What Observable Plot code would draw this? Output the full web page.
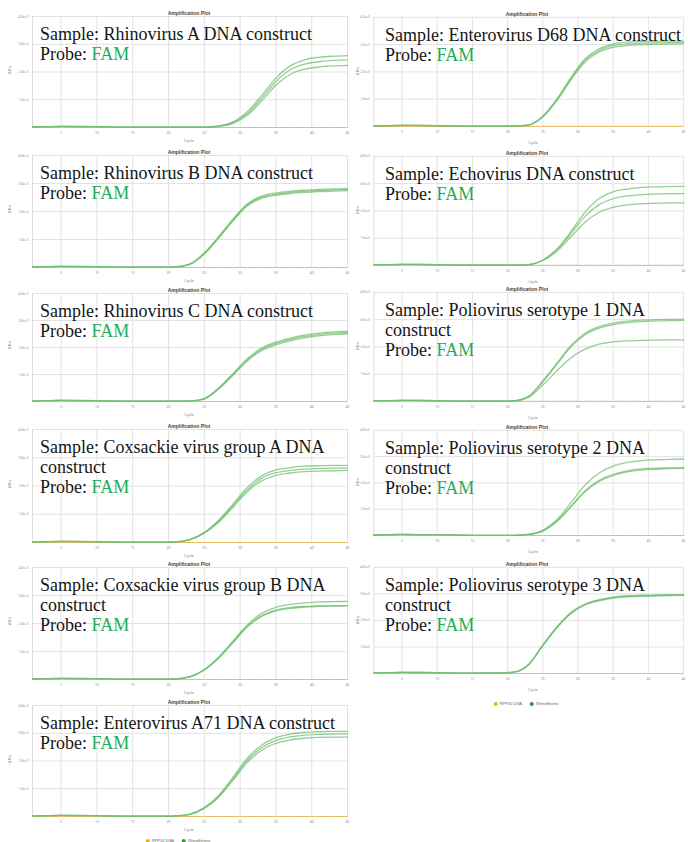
<!DOCTYPE html>
<html><head><meta charset="utf-8">
<script src="https://cdn.jsdelivr.net/npm/d3@7"></script>
<script src="https://cdn.jsdelivr.net/npm/@observablehq/plot@0.6"></script>
<style>
html,body{margin:0;padding:0;background:#fff}
body{width:688px;height:842px;overflow:hidden;position:relative;font-family:"Liberation Sans",Arial,sans-serif}
.panel{position:absolute}
.ov{position:absolute;font-family:"Liberation Serif","DejaVu Serif","Times New Roman",serif;font-size:18px;line-height:20px;color:#151515;white-space:nowrap}
.ov div{height:20px}
.fam{color:#1fab5a}
.pre{white-space:pre}
.ttl{position:absolute;font-size:5px;font-weight:bold;color:#444;transform:translateX(-50%);white-space:nowrap}
.cyc{position:absolute;font-size:4px;color:#888;transform:translateX(-50%);white-space:nowrap}
.drn{position:absolute;font-size:4px;color:#888;transform:translate(-50%,-50%) rotate(-90deg);white-space:nowrap}
.leg{position:absolute;font-size:4px;color:#666;transform:translateX(-50%);white-space:nowrap;display:flex;gap:8px;align-items:center}
.dot{display:inline-block;width:4px;height:4px;border-radius:50%;margin-right:2px;vertical-align:middle}
</style></head>
<body>
<script>
// ---- data (ΔRn in units of 1e5) ----
const cycles = [1,5,10,15,19,21,23,25,27,29,31,33,35,37,39,41,43,45];
const xTicks = [5,10,15,20,25,30,35,40,45];
const yTicks = [1,2,3,4];
const probe = "FAM";
const legendLabels = ["RPP30 DNA", "RhinoEntero"];
const rpp30 = [0,0,0,0,0,0,0,0,0,0,0,0,0,0,0,0,0,0];

const sampleNames = [
  ["Rhinovirus A DNA construct"],
  ["Rhinovirus B DNA construct"],
  ["Rhinovirus C DNA construct"],
  ["Coxsackie virus group A DNA", "construct"],
  ["Coxsackie virus group B DNA", "construct"],
  ["Enterovirus A71 DNA construct"],
  ["Enterovirus D68 DNA construct"],
  ["Echovirus DNA construct"],
  ["Poliovirus serotype 1 DNA", "construct"],
  ["Poliovirus serotype 2 DNA", "construct"],
  ["Poliovirus serotype 3 DNA", "construct"]
];

const rhinovirusA = [
  [0.02,0.04,0.03,0.01,0.01,0.01,0.01,0.01,0.06,0.20,0.57,1.15,1.78,2.22,2.44,2.53,2.57,2.59],
  [0.02,0.04,0.03,0.01,0.01,0.01,0.01,0.01,0.05,0.17,0.50,1.05,1.66,2.08,2.28,2.37,2.42,2.44],
  [0.02,0.04,0.03,0.01,0.01,0.01,0.01,0.01,0.04,0.15,0.44,0.95,1.52,1.91,2.10,2.18,2.22,2.24]
];
const rhinovirusB = [
  [0.02,0.04,0.03,0.01,0.01,0.02,0.13,0.52,1.10,1.73,2.27,2.55,2.66,2.72,2.76,2.79,2.81,2.82],
  [0.02,0.04,0.03,0.01,0.01,0.02,0.12,0.50,1.08,1.70,2.24,2.51,2.62,2.68,2.72,2.75,2.77,2.79],
  [0.02,0.04,0.03,0.01,0.01,0.02,0.11,0.48,1.05,1.66,2.20,2.47,2.58,2.64,2.68,2.71,2.73,2.75]
];
const rhinovirusC = [
  [0.02,0.04,0.03,0.01,0.01,0.01,0.02,0.11,0.50,1.03,1.58,1.98,2.20,2.35,2.46,2.53,2.58,2.61],
  [0.02,0.04,0.03,0.01,0.01,0.01,0.02,0.10,0.48,1.00,1.54,1.93,2.15,2.30,2.41,2.48,2.53,2.56],
  [0.02,0.04,0.03,0.01,0.01,0.01,0.02,0.09,0.46,0.97,1.50,1.88,2.10,2.25,2.36,2.43,2.48,2.51]
];
const coxsackieA = [
  [0.02,0.04,0.03,0.01,0.01,0.02,0.11,0.36,0.79,1.36,1.95,2.36,2.57,2.65,2.70,2.72,2.73,2.73],
  [0.02,0.04,0.03,0.01,0.01,0.02,0.10,0.34,0.75,1.30,1.87,2.27,2.47,2.55,2.60,2.62,2.63,2.63],
  [0.02,0.04,0.03,0.01,0.01,0.02,0.10,0.33,0.72,1.25,1.80,2.18,2.38,2.46,2.51,2.53,2.54,2.55]
];
const coxsackieB = [
  [0.02,0.04,0.03,0.01,0.01,0.02,0.10,0.36,0.80,1.37,1.95,2.36,2.58,2.68,2.74,2.77,2.78,2.79],
  [0.02,0.04,0.03,0.01,0.01,0.02,0.10,0.35,0.78,1.34,1.90,2.28,2.48,2.57,2.61,2.63,2.64,2.64],
  [0.02,0.04,0.03,0.01,0.01,0.02,0.09,0.34,0.76,1.31,1.87,2.25,2.45,2.54,2.59,2.61,2.62,2.63]
];
const enterovirusA71 = [
  [0.02,0.04,0.03,0.01,0.01,0.02,0.09,0.32,0.76,1.42,2.10,2.57,2.84,2.97,3.03,3.06,3.07,3.07],
  [0.02,0.04,0.03,0.01,0.01,0.02,0.08,0.30,0.72,1.35,2.02,2.48,2.74,2.87,2.93,2.96,2.97,2.98],
  [0.02,0.04,0.03,0.01,0.01,0.02,0.08,0.29,0.69,1.30,1.95,2.39,2.64,2.76,2.82,2.85,2.86,2.86]
];
const enterovirusD68 = [
  [0.02,0.04,0.03,0.01,0.01,0.02,0.06,0.38,1.01,1.80,2.48,2.85,3.02,3.09,3.11,3.12,3.13,3.13],
  [0.02,0.04,0.03,0.01,0.01,0.02,0.05,0.36,0.98,1.75,2.42,2.79,2.96,3.03,3.05,3.06,3.07,3.08],
  [0.02,0.04,0.03,0.01,0.01,0.02,0.05,0.34,0.95,1.70,2.36,2.73,2.90,2.97,3.00,3.01,3.02,3.03]
];
const echovirus = [
  [0.02,0.04,0.03,0.01,0.01,0.01,0.03,0.20,0.60,1.25,1.95,2.45,2.70,2.80,2.86,2.88,2.89,2.90],
  [0.02,0.04,0.03,0.01,0.01,0.01,0.03,0.19,0.57,1.17,1.80,2.23,2.45,2.55,2.60,2.62,2.63,2.63],
  [0.02,0.04,0.03,0.01,0.01,0.01,0.03,0.18,0.52,1.05,1.58,1.95,2.13,2.22,2.26,2.28,2.29,2.29]
];
const poliovirus1 = [
  [0.02,0.04,0.03,0.01,0.01,0.03,0.20,0.75,1.40,2.05,2.50,2.74,2.87,2.94,2.98,3.00,3.01,3.02],
  [0.02,0.04,0.03,0.01,0.01,0.03,0.18,0.72,1.36,2.00,2.45,2.69,2.82,2.89,2.93,2.95,2.96,2.97],
  [0.02,0.04,0.03,0.01,0.01,0.02,0.15,0.60,1.12,1.60,1.92,2.10,2.18,2.22,2.24,2.25,2.26,2.26]
];
const poliovirus2 = [
  [0.02,0.04,0.03,0.01,0.01,0.01,0.04,0.20,0.60,1.25,1.92,2.38,2.64,2.78,2.85,2.88,2.90,2.91],
  [0.02,0.04,0.03,0.01,0.01,0.01,0.04,0.18,0.55,1.12,1.70,2.10,2.33,2.46,2.53,2.56,2.57,2.58],
  [0.02,0.04,0.03,0.01,0.01,0.01,0.04,0.17,0.53,1.09,1.66,2.06,2.29,2.42,2.49,2.52,2.54,2.55]
];
const poliovirus3 = [
  [0.02,0.04,0.03,0.01,0.02,0.06,0.35,1.08,1.76,2.30,2.62,2.78,2.88,2.93,2.95,2.96,2.97,2.97],
  [0.02,0.04,0.03,0.01,0.02,0.06,0.34,1.06,1.74,2.28,2.60,2.76,2.86,2.91,2.93,2.94,2.95,2.95],
  [0.02,0.04,0.03,0.01,0.02,0.05,0.33,1.04,1.72,2.26,2.58,2.74,2.84,2.89,2.91,2.92,2.93,2.94]
];
const series = [rhinovirusA, rhinovirusB, rhinovirusC, coxsackieA, coxsackieB, enterovirusA71,
                enterovirusD68, echovirus, poliovirus1, poliovirus2, poliovirus3];

// ---- layout (top gridline / baseline page y, column) ----
const layout = [
  {col:0,T:16,B:127},{col:0,T:155,B:267},{col:0,T:293,B:401},{col:0,T:429,B:542},{col:0,T:567,B:679},{col:0,T:705,B:816},
  {col:1,T:17,B:129},{col:1,T:156,B:268},{col:1,T:292,B:404},{col:1,T:430,B:538},{col:1,T:567,B:676}
];
const colGeom = [
  {divLeft:0, width:350, ml:32, mr:3, ttlX:189, ovX:40, legX:178, cycX:189, drnX:9},
  {divLeft:350, width:347, ml:24, mr:5, ttlX:527, ovX:385, legX:526, cycX:533, drnX:357}
];
const GREEN = "#6fbd6f", YELLOW = "#e8bf62";

function addDiv(cls, text, x, y) {
  const d = document.createElement("div");
  d.className = cls;
  d.textContent = text;
  d.style.left = x + "px";
  d.style.top = y + "px";
  document.body.appendChild(d);
  return d;
}

layout.forEach((L, i) => {
  const g = colGeom[L.col];
  const mt = 6, mb = 22;
  const h = mt + (L.B - L.T) + mb;
  const rows = [];
  series[i].forEach((rep, r) => rep.forEach((v, k) => rows.push({cycle: cycles[k], v, rep: r})));
  const base = rpp30.map((v, k) => ({cycle: cycles[k], v}));
  const chart = Plot.plot({
    width: g.width, height: h,
    marginLeft: g.ml, marginRight: g.mr, marginTop: mt, marginBottom: mb,
    style: {background: "transparent", overflow: "visible"},
    x: {domain: [1, 45]},
    y: {domain: [0, 4]},
    marks: [
      Plot.gridX(xTicks, {stroke: "#e2e2e2", strokeOpacity: 1}),
      Plot.gridY(yTicks, {stroke: "#e2e2e2", strokeOpacity: 1}),
      Plot.ruleX([1], {stroke: "#dcdcdc"}),
      Plot.ruleY([0], {stroke: "#d4d4d4"}),
      Plot.axisX(xTicks, {tickSize: 0, tickPadding: 4, fontSize: 3.5, fill: "#888", label: null}),
      Plot.axisY(yTicks, {tickSize: 0, tickPadding: 4, fontSize: 3.2, fill: "#888",
        tickFormat: d => d.toFixed(1) + "e+5", label: null}),
      Plot.line(base, {x: "cycle", y: "v", stroke: YELLOW, strokeWidth: 1}),
      Plot.line(rows, {x: "cycle", y: "v", z: "rep", stroke: GREEN, strokeWidth: 1.3,
        strokeOpacity: 0.75, curve: "monotone-x"})
    ]
  });
  const div = document.createElement("div");
  div.className = "panel";
  div.style.left = g.divLeft + "px";
  div.style.top = (L.T - mt) + "px";
  div.appendChild(chart);
  document.body.appendChild(div);

  addDiv("ttl", "Amplification Plot", g.ttlX, L.T - 6);
  addDiv("cyc", "Cycle", g.cycX, L.B + 11);
  addDiv("drn", "ΔRn", g.drnX, (L.T + L.B) / 2 - 2);

  const ov = document.createElement("div");
  ov.className = "ov";
  ov.style.left = g.ovX + "px";
  ov.style.top = (L.T + 8) + "px";
  sampleNames[i].forEach((line, k) => {
    const d = document.createElement("div");
    d.textContent = (k === 0 ? "Sample: " : "") + line;
    ov.appendChild(d);
  });
  const pl = document.createElement("div");
  const a = document.createElement("span");
  a.className = "pre";
  a.textContent = "Probe: ";
  const f = document.createElement("span");
  f.className = "fam";
  f.textContent = probe;
  pl.appendChild(a);
  pl.appendChild(f);
  ov.appendChild(pl);
  document.body.appendChild(ov);
});

// legends under the last panel of each column
[{x: colGeom[0].legX, y: 838}, {x: colGeom[1].legX, y: 701}].forEach(p => {
  const lg = document.createElement("div");
  lg.className = "leg";
  lg.style.left = p.x + "px";
  lg.style.top = p.y + "px";
  legendLabels.forEach((l, k) => {
    const s = document.createElement("span");
    const dot = document.createElement("span");
    dot.className = "dot";
    dot.style.background = k ? "#2e9a36" : "#f0b400";
    const tx = document.createElement("span");
    tx.textContent = l;
    s.appendChild(dot);
    s.appendChild(tx);
    lg.appendChild(s);
  });
  document.body.appendChild(lg);
});
</script>
</body></html>
